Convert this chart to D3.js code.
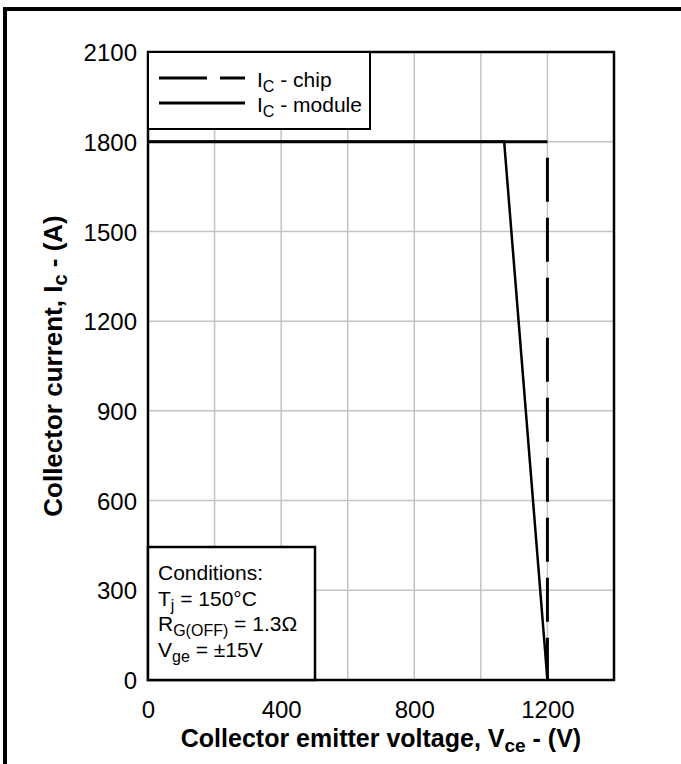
<!DOCTYPE html>
<html>
<head>
<meta charset="utf-8">
<script src="https://cdn.jsdelivr.net/npm/d3@7"></script>
<style>
  html, body { margin: 0; padding: 0; background: #fff; }
  svg { display: block; font-family: Arial, "Liberation Sans", Helvetica, sans-serif; }
</style>
</head>
<body>
<svg id="chart" width="681" height="764"></svg>
<script>
// ---- data ----
const xTicks = [0, 400, 800, 1200];
const xGrid = [200, 400, 600, 800, 1000, 1200];
const yTicks = [0, 300, 600, 900, 1200, 1500, 1800, 2100];
const yGrid = [300, 600, 900, 1200, 1500, 1800];
const moduleVce = [0, 1070, 1200];
const moduleIc = [1800, 1800, 0];
const chipVce = [0, 1200, 1200];
const chipIc = [1800, 1800, 0];
const xDomain = [0, 1400];
const yDomain = [0, 2100];

const svg = d3.select("#chart");
const m = { left: 148, right: 614, top: 52, bottom: 680 };

const x = d3.scaleLinear().domain(xDomain).range([m.left, m.right]);
const y = d3.scaleLinear().domain(yDomain).range([m.bottom, m.top]);

// outer frame (extends beyond the right/bottom of the picture)
svg.append("rect").attr("x", 5).attr("y", 9).attr("width", 720).attr("height", 820)
  .attr("fill", "none").attr("stroke", "#000").attr("stroke-width", 4);

// grid
svg.append("g").selectAll("line").data(xGrid).join("line")
  .attr("x1", d => x(d)).attr("x2", d => x(d))
  .attr("y1", y(yDomain[0])).attr("y2", y(yDomain[1]))
  .attr("stroke", "#c4c4c4").attr("stroke-width", 1.5);
svg.append("g").selectAll("line").data(yGrid).join("line")
  .attr("y1", d => y(d)).attr("y2", d => y(d))
  .attr("x1", x(xDomain[0])).attr("x2", x(xDomain[1]))
  .attr("stroke", "#c4c4c4").attr("stroke-width", 1.5);

// axes (labels only; frame drawn separately)
const xAxis = d3.axisBottom(x).tickValues(xTicks).tickSize(0).tickFormat(d3.format("d"));
const gx = svg.append("g").attr("transform", `translate(0,${m.bottom})`).call(xAxis);
gx.select(".domain").remove();
gx.selectAll("text").attr("font-size", 24).attr("fill", "#000").attr("font-family", null)
  .attr("dy", 0).attr("y", 38);

const yAxis = d3.axisLeft(y).tickValues(yTicks).tickSize(0).tickPadding(11).tickFormat(d3.format("d"));
const gy = svg.append("g").attr("transform", `translate(${m.left},0)`).call(yAxis);
gy.select(".domain").remove();
gy.selectAll("text").attr("font-size", 24).attr("fill", "#000").attr("font-family", null)
  .attr("dy", "0.36em");

// plot border
svg.append("rect").attr("x", m.left).attr("y", m.top)
  .attr("width", m.right - m.left).attr("height", m.bottom - m.top)
  .attr("fill", "none").attr("stroke", "#000").attr("stroke-width", 2.5);

// lines
const line = d3.line().x(d => x(d[0])).y(d => y(d[1]));
const chipPts = chipVce.map((v, i) => [v, chipIc[i]]);
const modPts = moduleVce.map((v, i) => [v, moduleIc[i]]);

// chip: horizontal part solid, vertical part dashed
svg.append("path").attr("d", line(chipPts.slice(0, 2))).attr("fill", "none")
  .attr("stroke", "#000").attr("stroke-width", 3);
svg.append("path").attr("d", line(chipPts.slice(1))).attr("fill", "none")
  .attr("stroke", "#000").attr("stroke-width", 3)
  .attr("stroke-dasharray", "44,16").attr("stroke-dashoffset", 44);

// module
svg.append("path").attr("d", line(modPts)).attr("fill", "none")
  .attr("stroke", "#000").attr("stroke-width", 2.5).attr("stroke-linejoin", "miter");

// legend
const lg = svg.append("g");
lg.append("rect").attr("x", m.left).attr("y", m.top).attr("width", 222).attr("height", 77)
  .attr("fill", "#fff").attr("stroke", "#000").attr("stroke-width", 2);
lg.append("line").attr("x1", 159).attr("x2", 245).attr("y1", 78).attr("y2", 78)
  .attr("stroke", "#000").attr("stroke-width", 3).attr("stroke-dasharray", "48,13");
lg.append("line").attr("x1", 159).attr("x2", 245).attr("y1", 103).attr("y2", 103)
  .attr("stroke", "#000").attr("stroke-width", 3);
const legLabels = [["chip", 87], ["module", 112]];
legLabels.forEach(([name, yy]) => {
  const t = lg.append("text").attr("x", 257).attr("y", yy).attr("font-size", 21);
  t.append("tspan").text("I");
  t.append("tspan").attr("font-size", 16).attr("dy", 5).text("C");
  t.append("tspan").attr("dy", -5).text(" - " + name);
});

// conditions box
const cg = svg.append("g");
cg.append("rect").attr("x", m.left).attr("y", 547).attr("width", 167).attr("height", m.bottom - 547)
  .attr("fill", "#fff").attr("stroke", "#000").attr("stroke-width", 2.5);
const cx = 158;
cg.append("text").attr("x", cx).attr("y", 580).attr("font-size", 21).text("Conditions:");
{
  const t = cg.append("text").attr("x", cx).attr("y", 606).attr("font-size", 21);
  t.append("tspan").text("T");
  t.append("tspan").attr("font-size", 16).attr("dy", 5).text("j");
  t.append("tspan").attr("dy", -5).text(" = 150°C");
}
{
  const t = cg.append("text").attr("x", cx).attr("y", 631).attr("font-size", 21);
  t.append("tspan").text("R");
  t.append("tspan").attr("font-size", 16).attr("dy", 5).text("G(OFF)");
  t.append("tspan").attr("dy", -5).text(" = 1.3Ω");
}
{
  const t = cg.append("text").attr("x", cx).attr("y", 657).attr("font-size", 21);
  t.append("tspan").text("V");
  t.append("tspan").attr("font-size", 16).attr("dy", 5).text("ge");
  t.append("tspan").attr("dy", -5).text(" = ±15V");
}

// axis titles
{
  const t = svg.append("text").attr("x", (m.left + m.right) / 2).attr("y", 747)
    .attr("text-anchor", "middle").attr("font-size", 25).attr("font-weight", "bold");
  t.append("tspan").text("Collector emitter voltage, V");
  t.append("tspan").attr("font-size", 19).attr("dy", 5).text("ce");
  t.append("tspan").attr("dy", -5).text(" - (V)");
}
{
  const t = svg.append("text")
    .attr("transform", `translate(62,${(m.top + m.bottom) / 2}) rotate(-90)`)
    .attr("text-anchor", "middle").attr("font-size", 26).attr("font-weight", "bold");
  t.append("tspan").text("Collector current, I");
  t.append("tspan").attr("font-size", 20).attr("dy", 5).text("c");
  t.append("tspan").attr("dy", -5).text(" - (A)");
}
</script>
</body>
</html>
